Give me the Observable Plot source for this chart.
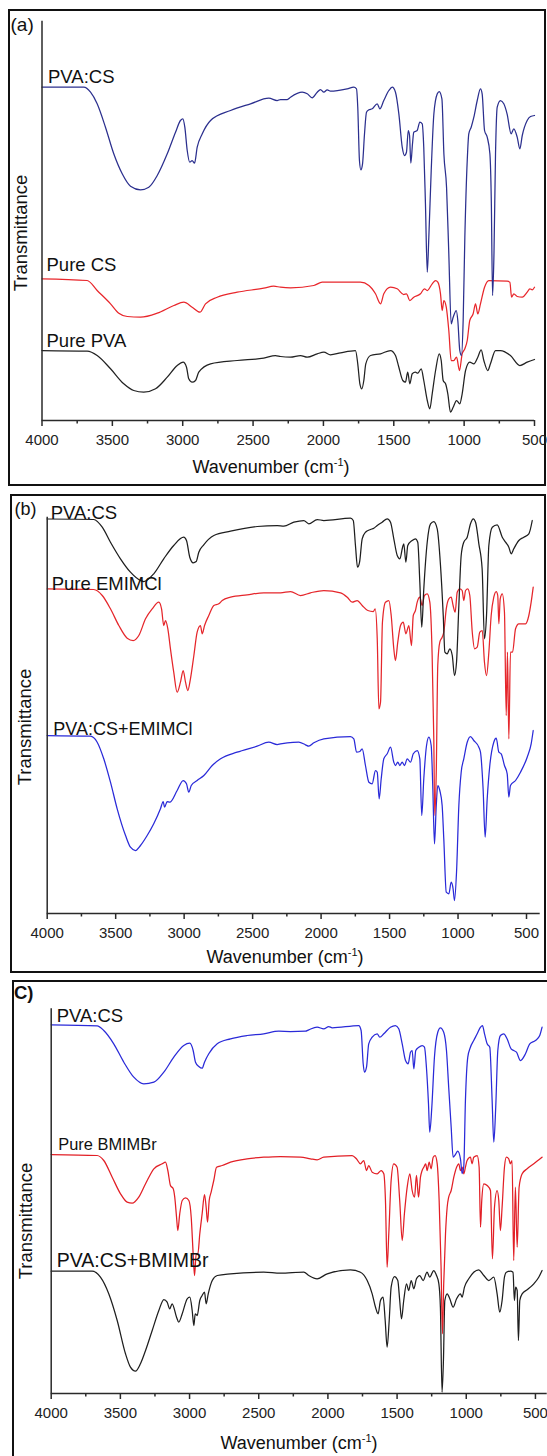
<!DOCTYPE html>
<html><head><meta charset="utf-8">
<script src="https://cdn.jsdelivr.net/npm/d3@7"></script>
<script src="https://cdn.jsdelivr.net/npm/@observablehq/plot@0.6"></script>
<style>
html,body{margin:0;padding:0;background:#fff;overflow:hidden;}
#page{position:relative;width:547px;height:1456px;overflow:hidden;font-family:"Liberation Sans",Arial,sans-serif;}
.box{position:absolute;border:2px solid #111;box-sizing:border-box;}
.plot{position:absolute;left:0;}
#overlay{position:absolute;left:0;top:0;}
</style></head><body><div id="page"></div>
<script>
// ---------- axis ticks ----------
const majorTicks = [4000,3500,3000,2500,2000,1500,1000,500];
const minorTicks = [3750,3250,2750,2250,1750,1250,750];

// ---------- data: [wavenumber (cm-1), transmittance (arb. units, offset)] ----------
// Panel (a)
const a_PVACS = [[4000,333.3],[3703,333.3],[3655,328.3],[3608,316.7],[3549,293.3],[3490,266.7],[3430,246.7],[3371,234.3],[3300,230.7],[3241,233.3],[3181,245],[3110,266.7],[3051,288.3],[3016,300],[2999,301.7],[2985,293.3],[2968,270],[2950,258.3],[2933,260],[2916,257.3],[2897,273.3],[2861,286.7],[2802,300],[2660,310],[2518,316.7],[2388,322.3],[2329,320],[2305,321],[2257,321],[2234,323.3],[2151,328.3],[2115,326.7],[2080,322.7],[2044,328.3],[2021,331],[1997,328.3],[1973,330.7],[1950,329.3],[1831,331.7],[1784,333.3],[1765,331.7],[1756,313.3],[1744,260],[1734,250.7],[1722,256.7],[1708,286.7],[1694,308.3],[1677,310.7],[1653,311.7],[1618,316.7],[1599,311.7],[1571,320],[1535,330],[1511,333.3],[1488,328.3],[1464,306.7],[1440,273.3],[1424,265],[1410,268.3],[1397,290],[1388,285],[1379,257.3],[1367,276.7],[1358,288.3],[1334,290],[1315,298.3],[1298,296.7],[1287,273.3],[1275,216.7],[1262,148.3],[1251,183.3],[1234,250],[1215,306.7],[1191,326.7],[1177,329],[1158,321.7],[1144,266.7],[1125,233.3],[1109,166.7],[1092,96.7],[1078,103.3],[1056,110],[1045,100],[1031,70],[1019,65],[1007,100],[995,183.3],[978,260],[967,286.7],[950,293.3],[931,303.3],[907,320],[884,331.7],[872,326.7],[855,290],[836,283.3],[817,266.7],[807,220],[798,125],[788,166.7],[777,266.7],[765,313.3],[742,320],[718,316.7],[695,306.7],[666,286.7],[647,291.7],[623,283.3],[604,271.7],[587,285],[552,300],[528,304],[500,305]];
const a_PureCS = [[4000,141.7],[3679,140],[3608,130],[3513,116.7],[3454,107.3],[3394,104],[3300,103.3],[3181,107.3],[3063,115],[2992,118.3],[2933,113.3],[2878,108.3],[2838,116.7],[2755,123.3],[2613,128.3],[2424,132.3],[2353,134.3],[2305,133.3],[2234,132.7],[2068,135],[2009,138.3],[1737,138.3],[1677,135],[1630,126.7],[1594,116.7],[1571,126.7],[1523,133.3],[1476,131.7],[1429,126],[1410,126.7],[1386,120],[1358,123.3],[1310,126.7],[1282,131.7],[1262,130],[1227,136.7],[1203,140],[1187,138.3],[1168,126.7],[1156,110],[1144,120],[1127,113.3],[1109,90],[1092,60],[1074,60],[1054,63.3],[1033,50],[1014,66.7],[995,71.7],[978,80],[960,100],[936,106.7],[919,116.7],[903,106.7],[884,116.7],[855,133.3],[825,140],[694,139.3],[675,138.3],[663,123.3],[647,126.7],[623,124],[587,123.3],[552,128.3],[533,131.7],[516,130.7],[500,133.3]];
const a_PurePVA = [[4000,70],[3679,69.3],[3608,65],[3513,51.7],[3419,36.7],[3348,30],[3277,28.3],[3193,31.7],[3110,43.3],[3039,55],[2997,58.3],[2973,53.3],[2957,41.7],[2933,38.3],[2909,40],[2886,48.3],[2802,56.7],[2613,60],[2424,62.3],[2341,65],[2305,64],[2234,63.3],[2163,65],[2115,63.3],[2044,66.7],[1997,68.3],[1950,65.7],[1879,67.7],[1772,70],[1756,56.7],[1741,36.7],[1727,31.7],[1713,40],[1699,56.7],[1665,65],[1594,66.7],[1523,70],[1488,65],[1464,53.3],[1436,40],[1417,38.3],[1401,48.3],[1386,36.7],[1369,46.7],[1346,48.3],[1330,47.3],[1305,51.7],[1287,40],[1262,20],[1244,11.7],[1227,26.7],[1203,50],[1177,66.7],[1163,60],[1149,40],[1132,36.7],[1116,26.7],[1097,8.3],[1078,13.3],[1054,20],[1031,16.7],[1014,26.7],[990,50],[960,58.3],[931,56.7],[903,63.3],[879,70.7],[860,60],[832,50],[813,56.7],[777,70],[742,70],[671,65],[604,55],[552,58.3],[500,61]];

// Panel (b)
const b_PVACS = [[4000,394.5],[3660,394],[3598,386.3],[3538,371.3],[3465,354.7],[3392,341.3],[3319,333],[3295,332],[3222,339.7],[3149,354.7],[3076,368],[3003,376.3],[2983,373],[2959,356.3],[2934,350.7],[2912,352],[2893,361.3],[2857,368.7],[2783,378],[2661,382.3],[2467,387],[2320,388],[2272,387.3],[2199,391.3],[2126,393],[2090,389.7],[2028,394],[1980,393],[1785,395.3],[1765,393],[1749,368],[1734,346.3],[1719,351.3],[1700,374.7],[1676,381.3],[1639,384],[1615,385.3],[1590,388],[1554,391.3],[1517,394.7],[1493,391.3],[1469,374.7],[1444,358],[1425,354.7],[1405,366.3],[1396,369.7],[1381,351.3],[1367,368],[1335,373],[1311,374.7],[1294,371.3],[1279,331.3],[1265,286.3],[1250,324.7],[1225,371.3],[1201,389.7],[1177,392],[1152,384.7],[1128,348],[1108,298],[1096,261.3],[1079,259.7],[1060,264.7],[1042,258],[1026,238],[1011,251.3],[994,308],[977,358],[958,371.3],[933,376.3],[909,389.7],[889,394.7],[872,391.3],[848,369.7],[824,344.7],[807,274.7],[792,298],[775,368],[750,386.3],[714,388.7],[677,376.3],[653,371.3],[629,366.3],[612,359.7],[593,364.7],[556,373],[520,376.3],[483,379.7],[458,393]];
const b_EMIMCl = [[4000,324.7],[3660,324],[3598,318],[3538,304.7],[3477,288],[3416,275.3],[3372,273],[3331,278],[3282,294.7],[3233,304.7],[3185,311.3],[3165,304.7],[3149,288],[3136,293],[3119,284.7],[3100,264.7],[3076,241.3],[3051,221.3],[3027,231.3],[3007,243],[2990,231.3],[2973,223],[2954,234.7],[2929,258],[2905,281.3],[2881,288],[2868,279.7],[2851,288],[2820,298],[2783,308],[2747,309.7],[2722,313],[2661,316.3],[2540,318.7],[2418,320.7],[2296,320.7],[2223,322],[2150,318],[2077,320.7],[1980,323],[1858,320.7],[1809,316.3],[1773,311.3],[1736,313],[1700,308],[1659,303],[1619,302],[1605,304.7],[1590,274.7],[1578,204.7],[1566,211.3],[1552,291.3],[1530,311.3],[1505,313],[1488,298],[1469,264.7],[1457,253],[1440,271.3],[1420,288],[1400,291.3],[1381,279.7],[1359,288],[1340,268],[1327,298],[1311,303],[1298,311.3],[1279,316.3],[1262,308],[1245,318],[1225,319.7],[1206,311.3],[1189,258],[1177,174.7],[1170,98],[1159,141.3],[1148,248],[1133,271.3],[1116,276.3],[1104,281.3],[1086,304.7],[1067,314.7],[1050,316.3],[1036,308],[1021,301.3],[1006,321.3],[987,324.7],[970,323],[958,313],[945,323],[929,324.7],[914,318],[896,281.3],[879,264.7],[860,266.3],[841,281.3],[823,283],[807,251.3],[792,238],[775,261.3],[758,298],[739,316.3],[721,322],[710,318],[702,289.7],[692,314.7],[677,319.7],[661,301.3],[648,198],[639,261.3],[629,174.7],[617,261.3],[602,261.3],[580,284.7],[556,289.7],[507,289.7],[483,298],[466,311.3],[451,326.3]];
const b_PVACS_EMIMCl = [[4000,178],[3684,177.3],[3635,171.3],[3587,154.7],[3538,131.3],[3489,104.7],[3428,78],[3392,66.3],[3355,63],[3319,68],[3270,78],[3222,89.7],[3173,104.7],[3153,112],[3143,106.3],[3124,112],[3105,111.3],[3051,123],[3007,133],[2983,129.7],[2966,121.3],[2948,128],[2905,133],[2856,138],[2795,148],[2734,154.7],[2613,161.3],[2467,167.3],[2382,171.3],[2320,169],[2296,169.7],[2247,170.7],[2163,171.3],[2114,168.7],[2090,167.3],[2053,170.7],[1980,174.7],[1785,177],[1761,174.7],[1741,161.3],[1717,162],[1700,164.7],[1676,148],[1651,131.3],[1627,129.7],[1603,143],[1590,141.3],[1576,114.7],[1561,134.7],[1542,154.7],[1517,159.7],[1493,166.3],[1469,151.3],[1457,148],[1440,151.3],[1425,148],[1408,151.3],[1391,148],[1371,154.7],[1347,151.3],[1327,159.7],[1298,163],[1279,154.7],[1265,98],[1250,134.7],[1230,168],[1213,176.3],[1196,168],[1184,124.7],[1172,69.7],[1159,108],[1148,128],[1133,123],[1116,108],[1104,74.7],[1086,21.3],[1067,19.7],[1050,31.3],[1036,24.7],[1026,13],[1011,41.3],[994,108],[977,141.3],[958,154.7],[933,171.3],[909,177],[885,173],[848,166.3],[836,161.3],[817,124.7],[802,76.3],[787,114.7],[768,148],[739,171.3],[721,175.3],[702,161.3],[685,159.7],[661,148],[641,139.7],[629,116.3],[617,128],[580,133],[544,141.3],[495,156.3],[466,169.7],[451,183]];

// Panel (c)
const c_PVACS = [[4000,368.7],[3668,367.7],[3620,363],[3548,349.7],[3475,331.3],[3403,316.3],[3331,309.7],[3258,311.3],[3186,321.3],[3114,336.3],[3042,348],[2998,350.3],[2974,343],[2957,331.3],[2933,327],[2909,325.3],[2892,331.3],[2861,339.7],[2800,349.7],[2704,354.7],[2584,358],[2464,359.7],[2355,362.3],[2271,362],[2162,362.3],[2138,363.7],[2078,366.3],[2030,364.7],[1994,367],[1969,365.7],[1777,368],[1760,363],[1745,329.7],[1736,321.3],[1721,326.3],[1705,349.7],[1680,356.3],[1644,359.7],[1625,356.3],[1596,359.7],[1548,366.3],[1512,368],[1488,364.7],[1463,349.7],[1439,333],[1420,329.7],[1403,341.3],[1391,343],[1379,324.7],[1365,343],[1343,346.3],[1319,348],[1302,346.3],[1288,326.3],[1273,289.7],[1264,261.3],[1249,286.3],[1230,336.3],[1206,361.3],[1187,365.7],[1163,361.3],[1143,343],[1127,306.3],[1109,266.3],[1095,236.3],[1078,239],[1062,242.3],[1042,234.7],[1030,220],[1018,227],[1006,293],[989,336.3],[970,346.3],[946,353],[921,359.7],[897,366.3],[883,368],[868,359.7],[849,349.7],[830,346.3],[813,293],[801,251.3],[787,286.3],[772,343],[753,358],[729,359.7],[705,354.7],[676,344.7],[657,343],[637,341.3],[608,333],[572,339.7],[541,349.7],[500,353],[469,358],[452,366.3]];
const c_BMIMBr = [[4000,239],[3668,238],[3620,233],[3559,216.3],[3499,199.7],[3451,191.3],[3415,190.3],[3367,196.3],[3318,209.7],[3258,224.7],[3198,229.7],[3174,231.3],[3157,223],[3138,208],[3118,204.7],[3107,196.3],[3094,176.3],[3085,163],[3071,179.7],[3053,193],[3029,195.7],[3005,193],[2988,176.3],[2974,139.7],[2964,118],[2952,139.7],[2940,139.7],[2926,159.7],[2909,179.7],[2892,199],[2880,186.3],[2870,171.3],[2858,193],[2844,201.3],[2825,213],[2805,226.3],[2764,228],[2704,231.3],[2584,234.7],[2464,236.3],[2343,237],[2198,236.3],[2126,234.7],[2078,233.7],[2030,236.3],[1825,238],[1794,234.7],[1765,229.7],[1741,233],[1721,223],[1705,228],[1680,221.3],[1644,219.7],[1615,223],[1596,219.7],[1584,193],[1572,126.3],[1560,159.7],[1543,213],[1524,229.7],[1500,226.3],[1481,193],[1463,153],[1447,179.7],[1427,206.3],[1408,219.7],[1391,203],[1374,196.3],[1360,218],[1345,196.3],[1331,216.3],[1319,223],[1307,226.3],[1293,229.7],[1283,223],[1268,231.3],[1254,224.7],[1239,236.3],[1225,238],[1210,229.7],[1196,193],[1182,126.3],[1172,59.7],[1163,109.7],[1150,159.7],[1138,186.3],[1127,196.3],[1109,203],[1090,216.3],[1070,226.3],[1054,229.7],[1042,223],[1030,226.3],[1018,219.7],[1006,226.3],[994,233],[970,236.3],[958,229.7],[946,236.3],[921,238],[907,226.3],[897,166.3],[888,193],[873,209.7],[849,208],[825,203],[811,134.7],[796,186.3],[777,203],[765,193],[753,163],[741,186.3],[724,226.3],[710,236.3],[693,234.7],[681,229.7],[669,233],[657,133],[645,206.3],[632,146.3],[618,206.3],[596,219.7],[560,224.7],[512,229.7],[452,236.3]];
const c_PVACS_BMIMBr = [[4000,122.3],[3704,122.3],[3644,116.3],[3584,99.7],[3523,73],[3463,39.7],[3427,26.3],[3391,22.3],[3355,29.7],[3318,43],[3270,63],[3222,83],[3186,94],[3162,91.3],[3143,84.7],[3126,89.7],[3094,76.3],[3078,71.3],[3053,79.7],[3017,94.7],[2998,96.3],[2981,83],[2969,68],[2959,79.7],[2945,78],[2926,93],[2909,98],[2892,101.3],[2880,89.7],[2865,99.7],[2836,113],[2800,118],[2704,119.7],[2464,121.3],[2343,120.3],[2174,121.3],[2138,118],[2078,114.7],[2005,119.7],[1837,123.7],[1765,121.3],[1716,113],[1680,99.7],[1656,86.3],[1637,79.7],[1620,93],[1601,96.3],[1586,73],[1572,46.3],[1557,73],[1543,106.3],[1519,117],[1495,113],[1481,93],[1468,74.7],[1452,93],[1432,109.7],[1416,103],[1398,113],[1379,104.7],[1360,114.7],[1336,118],[1312,113],[1283,121.3],[1264,116.3],[1235,123],[1215,118],[1198,109.7],[1187,86.3],[1175,1.3],[1165,33],[1155,93],[1138,99.7],[1119,94.7],[1095,86.3],[1070,94.7],[1042,99.7],[1030,96.3],[1013,106.3],[982,114.7],[946,121.3],[910,123.7],[873,118],[837,113],[801,116.3],[777,99.7],[758,81.3],[741,93],[724,116.3],[710,121.3],[681,122.3],[662,121.3],[652,93],[643,106.3],[632,103],[623,53],[613,93],[596,99.7],[560,103.7],[512,109.7],[476,116.3],[452,123]];

// ---------- layout (page pixels) ----------
const FONT = '"Liberation Sans", Arial, sans-serif';
const panels = [
  { top: 0, height: 490, mt: 20.7, mb: 70, ml: 41.5, mr: 13, xDomain: [4000, 500], yMax: 399.3,
    box: {l: 8, t: 9, r: 546, b: 486},
    series: [
      {name: "Pure PVA", data: a_PurePVA, color: "#222222"},
      {name: "Pure CS", data: a_PureCS, color: "#e8262b"},
      {name: "PVA:CS", data: a_PVACS, color: "#2b2f8e"}
    ],
    tag: {text: "(a)", x: 10.5, y: 31, size: 19, weight: "normal"},
    labels: [
      {text: "PVA:CS", x: 48, y: 83, size: 18.5},
      {text: "Pure CS", x: 46.5, y: 270.5, size: 18.5},
      {text: "Pure PVA", x: 46.5, y: 346.5, size: 18.5}
    ],
    ytitle: {x: 27, y: 233}, xtitle: {x: 271, y: 473}
  },
  { top: 490, height: 490, mt: 26.7, mb: 67, ml: 46.7, mr: 7.3, xDomain: [4000, 400], yMax: 396.3,
    box: {l: 10, t: 494, r: 546, b: 973},
    series: [
      {name: "PVA:CS+EMIMCl", data: b_PVACS_EMIMCl, color: "#2a2ad8"},
      {name: "Pure EMIMCl", data: b_EMIMCl, color: "#e5262b"},
      {name: "PVA:CS", data: b_PVACS, color: "#1e1e1e"}
    ],
    tag: {text: "(b)", x: 14.5, y: 514.5, size: 18, weight: "normal"},
    labels: [
      {text: "PVA:CS", x: 50.7, y: 519, size: 18.5},
      {text: "Pure EMIMCl", x: 51.7, y: 590, size: 18.5},
      {text: "PVA:CS+EMIMCl", x: 53.3, y: 735, size: 18}
    ],
    ytitle: {x: 30.5, y: 727}, xtitle: {x: 285, y: 963}
  },
  { top: 975, height: 481, mt: 33.3, mb: 63, ml: 50.7, mr: 0.3, xDomain: [4000, 415], yMax: 384.7,
    box: {l: 12, t: 980, r: 549, b: 1460},
    series: [
      {name: "PVA:CS+BMIMBr", data: c_PVACS_BMIMBr, color: "#1e1e1e"},
      {name: "Pure BMIMBr", data: c_BMIMBr, color: "#e21f26"},
      {name: "PVA:CS", data: c_PVACS, color: "#2a2ad8"}
    ],
    tag: {text: "C)", x: 14, y: 998.5, size: 18.5, weight: "bold"},
    labels: [
      {text: "PVA:CS", x: 56.7, y: 1022, size: 18.5},
      {text: "Pure BMIMBr", x: 58.3, y: 1150, size: 16.4},
      {text: "PVA:CS+BMIMBr", x: 56.7, y: 1267, size: 19.5}
    ],
    ytitle: {x: 32.3, y: 1221}, xtitle: {x: 299, y: 1449}
  }
];

const page = document.getElementById("page");

for (const p of panels) {
  const box = document.createElement("div");
  box.className = "box";
  box.style.left = p.box.l + "px"; box.style.top = p.box.t + "px";
  box.style.width = (p.box.r - p.box.l) + "px"; box.style.height = (p.box.b - p.box.t) + "px";
  page.appendChild(box);

  const svg = Plot.plot({
    width: 547, height: p.height,
    marginTop: p.mt, marginBottom: p.mb, marginLeft: p.ml, marginRight: p.mr,
    x: {domain: p.xDomain},
    y: {domain: [0, p.yMax], axis: null},
    style: {fontFamily: FONT, fontSize: "15px", color: "#222", background: "transparent", overflow: "visible"},
    marks: [
      ...p.series.map(s => Plot.line(s.data, {x: d => d[0], y: d => d[1], stroke: s.color, strokeWidth: 1.25, curve: "monotone-x"})),
      Plot.ruleY([0], {stroke: "#2a2a2a", strokeWidth: 1.5}),
      Plot.ruleX([4000], {stroke: "#2a2a2a", strokeWidth: 1.5}),
      Plot.axisX({ticks: majorTicks.filter(t => t >= p.xDomain[1]), tickSize: 6, tickPadding: 8, tickFormat: "d", label: null, fontSize: 15, strokeWidth: 1.5, stroke: "#2a2a2a", fill: "#222"}),
      Plot.axisX({ticks: minorTicks, tickSize: 3.5, tickFormat: () => "", label: null, strokeWidth: 1.5, stroke: "#2a2a2a"})
    ]
  });
  svg.classList.add("plot");
  svg.style.top = p.top + "px";
  svg.style.position = "absolute";
  page.appendChild(svg);
}

// ---------- text overlay ----------
const ov = d3.create("svg").attr("id", "overlay").attr("width", 547).attr("height", 1456)
  .style("font-family", FONT).style("fill", "#111");
for (const p of panels) {
  ov.append("text").attr("x", p.tag.x).attr("y", p.tag.y).attr("font-size", p.tag.size)
    .attr("font-weight", p.tag.weight).text(p.tag.text);
  for (const l of p.labels) {
    ov.append("text").attr("x", l.x).attr("y", l.y).attr("font-size", l.size).text(l.text);
  }
  ov.append("text").attr("transform", `translate(${p.ytitle.x},${p.ytitle.y}) rotate(-90)`)
    .attr("text-anchor", "middle").attr("font-size", 18.5).text("Transmittance");
  const t = ov.append("text").attr("x", p.xtitle.x).attr("y", p.xtitle.y)
    .attr("text-anchor", "middle").attr("font-size", 18);
  t.append("tspan").text("Wavenumber (cm");
  t.append("tspan").attr("font-size", 11).attr("dy", -7).text("-1");
  t.append("tspan").attr("dy", 7).text(")");
}
page.appendChild(ov.node());
</script></body></html>
